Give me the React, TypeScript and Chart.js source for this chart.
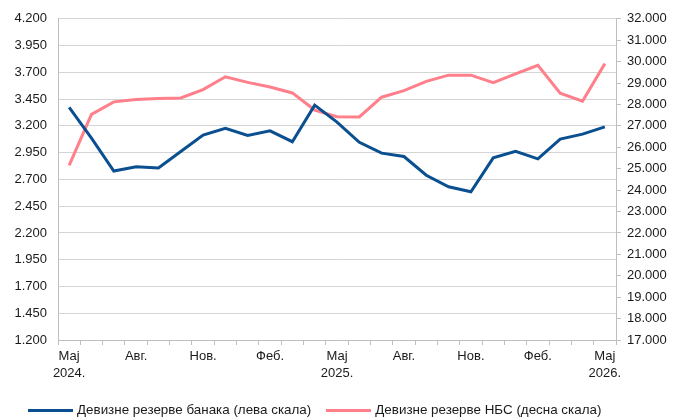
import { useEffect, useRef } from 'react';
import { Chart, registerables } from 'chart.js';

Chart.register(...registerables);

const categories: string[] = [
  'Мај 2024.', 'Јун 2024.', 'Јул 2024.', 'Авг. 2024.', 'Сеп. 2024.', 'Окт. 2024.', 'Нов. 2024.', 'Дец. 2024.',
  'Јан. 2025.', 'Феб. 2025.', 'Мар. 2025.', 'Апр. 2025.', 'Мај 2025.', 'Јун 2025.', 'Јул 2025.', 'Авг. 2025.',
  'Сеп. 2025.', 'Окт. 2025.', 'Нов. 2025.', 'Дец. 2025.', 'Јан. 2026.', 'Феб. 2026.', 'Мар. 2026.', 'Апр. 2026.',
  'Мај 2026.',
];

const tickLabels: (string | string[])[] = [
  ['Мај', '2024.'], '', '', 'Авг.', '', '', 'Нов.', '', '', 'Феб.', '', '',
  ['Мај', '2025.'], '', '', 'Авг.', '', '', 'Нов.', '', '', 'Феб.', '', '',
  ['Мај', '2026.'],
];

const bankReserves: number[] = [
  3372, 3085, 2778, 2818, 2806, 2960, 3114, 3178, 3111, 3154, 3052, 3394,
  3235, 3046, 2945, 2914, 2739, 2631, 2585, 2901, 2963, 2892, 3077, 3123, 3191,
];

const nbsReserves: number[] = [
  25155, 27537, 28122, 28229, 28275, 28306, 28691, 29291, 29030, 28814, 28538, 27738,
  27430, 27415, 28338, 28645, 29077, 29368, 29368, 29013, 29430, 29830, 28522, 28153, 29907,
];

const seriesNames: string[] = [
  'Девизне резерве банака (лева скала)',
  'Девизне резерве НБС (десна скала)',
];

const leftAxis = { min: 1200, max: 4200, step: 250 };
const rightAxis = { min: 17000, max: 32000, step: 1000 };

const BLUE = '#0a4f8f';
const PINK = '#ff7f8a';
const FONT = "'Liberation Sans', Arial, sans-serif";
const TEXT = '#1a1a1a';

function fmt(v: number): string {
  const n = Math.round(v);
  const th = Math.floor(n / 1000);
  const rest = n % 1000;
  return th + '.' + String(rest).padStart(3, '0');
}

export default function App() {
  const ref = useRef<HTMLCanvasElement | null>(null);

  useEffect(() => {
    if (!ref.current) return;
    const chart = new Chart(ref.current, {
      type: 'line',
      data: {
        labels: categories,
        datasets: [
          {
            label: seriesNames[0],
            data: bankReserves,
            borderColor: BLUE,
            backgroundColor: BLUE,
            borderWidth: 3,
            pointRadius: 0,
            tension: 0,
            yAxisID: 'y',
          },
          {
            label: seriesNames[1],
            data: nbsReserves,
            borderColor: PINK,
            backgroundColor: PINK,
            borderWidth: 3,
            pointRadius: 0,
            tension: 0,
            yAxisID: 'y1',
          },
        ],
      },
      options: {
        animation: false,
        responsive: true,
        maintainAspectRatio: false,
        layout: { padding: { top: 13, bottom: 0, left: 0, right: 0 } },
        plugins: {
          legend: { display: false },
          tooltip: { enabled: false },
        },
        scales: {
          x: {
            type: 'category',
            offset: true,
            grid: {
              display: true,
              drawOnChartArea: false,
              drawTicks: true,
              tickLength: 5,
              offset: true,
              color: '#bfbfbf',
            },
            border: { color: '#bfbfbf', width: 1 },
            ticks: {
              autoSkip: false,
              maxRotation: 0,
              minRotation: 0,
              padding: 3,
              color: TEXT,
              font: { family: FONT, size: 13, lineHeight: 1.3 },
              callback: (_v: any, i: number) => tickLabels[i],
            },
            afterFit: (s: any) => { s.height = 80; },
          },
          y: {
            position: 'left',
            min: leftAxis.min,
            max: leftAxis.max,
            grid: { color: '#d4d4d4', drawTicks: false, lineWidth: 1 },
            border: { color: '#bfbfbf', width: 1 },
            ticks: {
              stepSize: leftAxis.step,
              padding: 11,
              color: TEXT,
              font: { family: FONT, size: 13 },
              callback: (v: any) => fmt(Number(v)),
            },
            afterFit: (s: any) => { s.width = 58; },
          },
          y1: {
            position: 'right',
            min: rightAxis.min,
            max: rightAxis.max,
            grid: { drawOnChartArea: false, drawTicks: true, tickLength: 5, color: '#bfbfbf' },
            border: { color: '#bfbfbf', width: 1 },
            ticks: {
              stepSize: rightAxis.step,
              padding: 6,
              color: TEXT,
              font: { family: FONT, size: 13 },
              callback: (v: any) => fmt(Number(v)),
            },
            afterFit: (s: any) => { s.width = 66; },
          },
        },
      },
    });
    return () => chart.destroy();
  }, []);

  const legendItem = (color: string, text: string, ml: number) => (
    <span style={{ display: 'inline-flex', alignItems: 'center', marginLeft: ml }}>
      <span style={{ display: 'inline-block', width: 45, height: 3, background: color, marginRight: 4 }} />
      <span>{text}</span>
    </span>
  );

  return (
    <div style={{ position: 'absolute', left: 0, top: 0, width: 682, height: 420 }}>
      <canvas ref={ref} />
      <div
        style={{
          position: 'absolute',
          left: 28,
          top: 402,
          fontFamily: FONT,
          fontSize: 13.4,
          color: TEXT,
          whiteSpace: 'nowrap',
          lineHeight: '16px',
          display: 'flex',
        }}
      >
        {legendItem(BLUE, seriesNames[0], 0)}
        {legendItem(PINK, seriesNames[1], 15)}
      </div>
    </div>
  );
}
